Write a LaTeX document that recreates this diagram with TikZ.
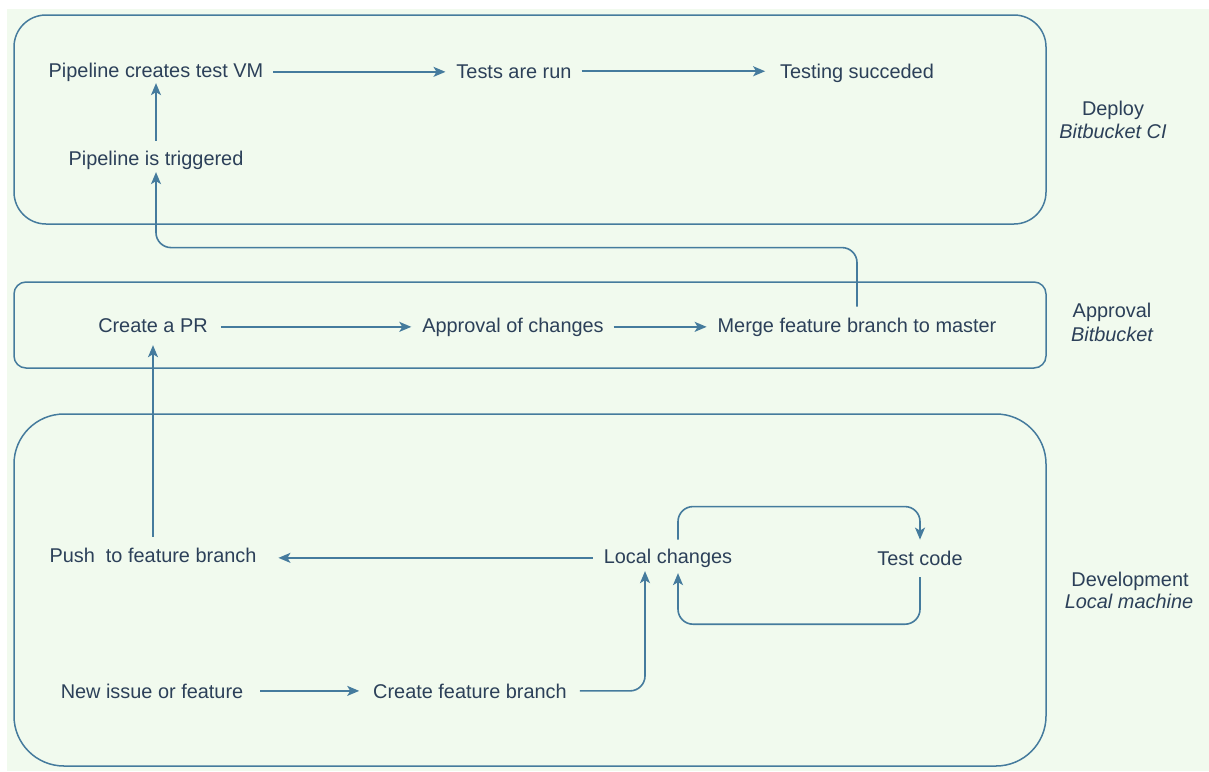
\documentclass[tikz,border=0pt]{standalone}
\usepackage{fontspec}
\setmainfont{Liberation Sans}
\usetikzlibrary{arrows.meta}
\definecolor{panel}{HTML}{F1FAEE}
\definecolor{edge}{HTML}{457B9D}
\definecolor{ink}{HTML}{2C4059}

\begin{document}
\begin{tikzpicture}[x=1pt,y=-1pt,
  lane/.style={draw=edge, line width=1.5pt, fill=panel, inner sep=0pt, outer sep=0pt},
  lbl/.style={text=ink, font=\fontsize{19.9}{23}\selectfont, inner sep=0pt, outer sep=0pt, anchor=base},
  tag/.style={lbl, font=\fontsize{19.9}{23}\selectfont\itshape},
  flow/.style={draw=edge, line width=1.6pt, rounded corners=15pt,
    -{Stealth[length=12pt,width=10pt,inset=3pt]}},
]
% page and canvas
\fill[white] (0,0) rectangle (1209,771);
\fill[panel] (7,9) rectangle (1209,771);
\useasboundingbox (0,0) rectangle (1209,771);

% swimlanes
\node[lane, rounded corners=32pt, minimum width=1032pt, minimum height=209pt] (deploy) at (530,119.5) {};
\node[lane, rounded corners=12pt, minimum width=1032pt, minimum height=86pt] (approval) at (530,325) {};
\node[lane, rounded corners=50pt, minimum width=1032pt, minimum height=352pt] (dev) at (530,590) {};

% lane captions
\node[lbl] (tDeploy) at (1113,115) {Deploy};
\node[tag] (tCI) at (1113,138) {Bitbucket CI};
\node[lbl] (tAppr) at (1112,317) {Approval};
\node[tag] (tBB) at (1112,341) {Bitbucket};
\node[lbl] (tDev) at (1130,586) {Development};
\node[tag] (tLocal) at (1129,608) {Local machine};

% steps: deploy
\node[lbl] (pvm) at (156,77) {Pipeline creates test VM};
\node[lbl] (run) at (514,78) {Tests are run};
\node[lbl] (ok) at (857,78) {Testing succeded};
\node[lbl] (trig) at (156,165) {Pipeline is triggered};

% steps: approval
\node[lbl] (pr) at (153,332) {Create a PR};
\node[lbl] (appr) at (513,332) {Approval of changes};
\node[lbl] (merge) at (857,332) {Merge feature branch to master};

% steps: development
\node[lbl] (push) at (153,562) {Push~ to feature branch};
\node[lbl] (local) at (668,563) {Local changes};
\node[lbl] (test) at (920,565) {Test code};
\node[lbl] (newi) at (152,698) {New issue or feature};
\node[lbl] (cfb) at (470,698) {Create feature branch};

% connectors
\draw[flow, shorten <=10pt, shorten >=11pt] (pvm.east) -- (pvm.east -| run.west);
\draw[flow, shorten <=10pt, shorten >=15pt] (run.east) -- (run.east -| ok.west);
\draw[flow, shorten <=10pt, shorten >=2pt] (trig.north) -- (pvm.south);
\draw[flow, shorten <=11pt, shorten >=3pt] (merge.north) -- ++(0,-70) -| (trig.south);

\draw[flow, shorten <=13pt, shorten >=11pt] (appr.west -| pr.east) -- (appr.west);
\draw[flow, shorten <=10pt, shorten >=11pt] (appr.east) -- (appr.east -| merge.west);
\draw[flow, shorten <=11pt, shorten >=13pt] (push.north) -- (pr.south);

\draw[flow, shorten <=11pt, shorten >=22pt] (local.west) -- (local.west -| push.east);
\draw[flow, shorten <=17pt, shorten >=14pt] (newi.east) -- (newi.east -| cfb.west);
\draw[flow, shorten <=13pt, shorten >=4pt] (cfb.east) -| ([xshift=-23pt]local.south);
\draw[flow, shorten <=9pt, shorten >=11pt] ([xshift=10pt]local.north) -- ++(0,-42) -| (test.north);
\draw[flow, shorten <=12pt, shorten >=6pt] (test.south) -- ++(0,59) -| ([xshift=10pt]local.south);
\end{tikzpicture}
\end{document}
